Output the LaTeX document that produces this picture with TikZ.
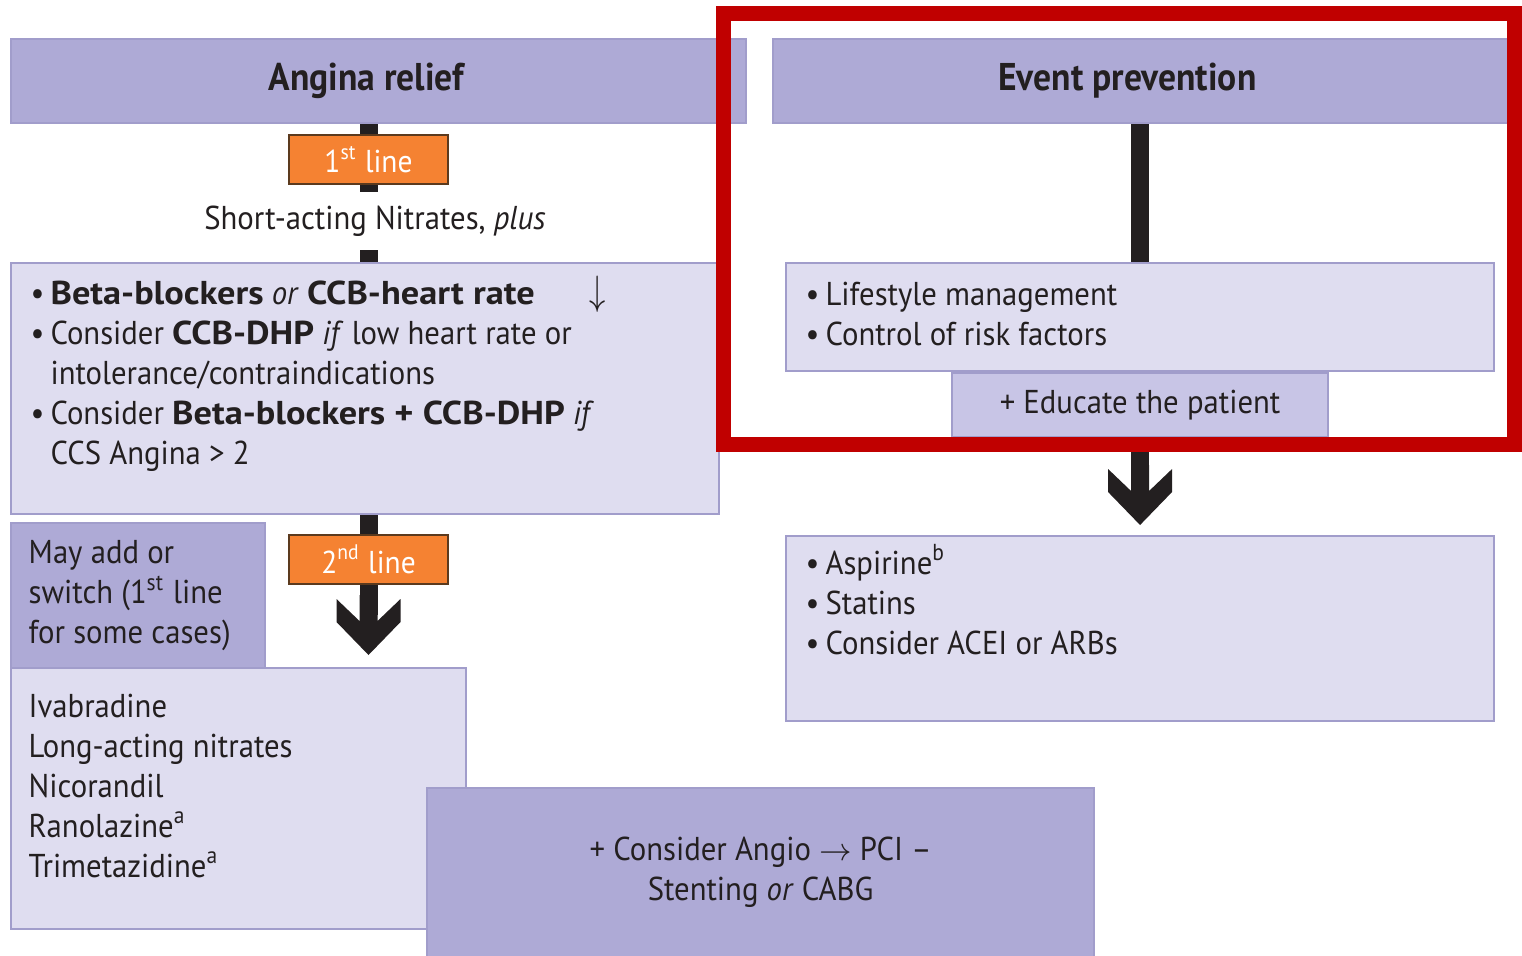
\documentclass[tikz,border=0pt]{standalone}
\usepackage{fontspec}
\setmainfont{PT Sans}[FakeStretch=0.93, BoldFeatures={FakeStretch=1.1}]
\newfontfamily\headfont{PT Sans}[FakeStretch=0.92]
\usepackage{xcolor}
\usetikzlibrary{positioning,calc,backgrounds}

\definecolor{lavdark}{HTML}{AEAAD6}
\definecolor{lavlight}{HTML}{DFDDF0}
\definecolor{lavmid}{HTML}{C8C5E6}
\definecolor{lavedge}{HTML}{A19DCB}
\definecolor{orng}{HTML}{F58232}
\definecolor{orline}{HTML}{5B3A1E}
\definecolor{ink}{HTML}{231F20}
\definecolor{redframe}{HTML}{C00000}

\newcommand{\blt}{\makebox[0.6em][l]{\textbullet}}
\newcommand{\ind}{\hspace*{0.6em}}

\tikzset{
  chev/.pic={\fill[ink] (0,0) -- (-0.32,0.33) -- (-0.32,0.56) -- (-0.09,0.34)
    -- (-0.09,0.6) -- (0.09,0.6) -- (0.09,0.34) -- (0.32,0.56) -- (0.32,0.33) -- cycle;}
}

\begin{document}
\begin{tikzpicture}[
  font=\fontsize{9.4}{11.4}\selectfont, text=ink,
  hdr/.style={draw=lavedge, line width=0.5pt, fill=lavdark, minimum width=7.35cm, minimum height=0.84cm, inner sep=0pt, anchor=north west, font=\fontsize{11}{13}\headfont\bfseries},
  lite/.style={draw=lavedge, line width=0.6pt, fill=lavlight, inner sep=0pt, anchor=north west},
  dark/.style={draw=lavedge, line width=0.6pt, fill=lavdark, inner sep=0pt, anchor=north west},
  orbox/.style={draw=orline, line width=0.8pt, fill=orng, text=white, minimum width=1.59cm, minimum height=0.49cm, inner sep=0pt, font=\fontsize{9}{11}\selectfont},
  txt/.style={align=left, inner sep=0pt},
  shaft/.style={line width=0.18cm, draw=ink}
]
\useasboundingbox (0,0) rectangle (15.22,-9.56);

% column heads
\node[hdr] (relief) at (0.10,-0.38) {Angina relief\hspace*{0.24cm}};
\node[hdr] (prevent) at (7.72,-0.38) {Event prevention\hspace*{0.26cm}};

% angina relief side
\node[orbox] (first) at (3.685,-1.595) {1\textsuperscript{st} line};
\node[fill=white, minimum height=0.58cm, inner xsep=2pt, inner ysep=0pt] (nitr) at (3.75,-2.21) {Short-acting Nitrates, \textit{plus}};
\node[lite, minimum width=7.08cm, minimum height=2.51cm] (bbk) at (0.10,-2.62) {};
\node[txt, below right=0.13cm and 0.20cm of bbk.north west] (bbktxt) {%
  \blt\textbf{Beta-blockers} \textit{or} \textbf{CCB-heart rate}\hspace{0.55cm}\scalebox{1}[1.3]{$\downarrow$}\\
  \blt Consider \textbf{CCB-DHP} \textit{if} low heart rate or\\
  \ind intolerance/contraindications\\
  \blt Consider \textbf{Beta-blockers + CCB-DHP} \textit{if}\\
  \ind CCS Angina > 2};
\node[orbox] (second) at (3.685,-5.595) {2\textsuperscript{nd} line};
\node[dark, minimum width=2.54cm, minimum height=1.45cm] (mayadd) at (0.10,-5.22) {};
\node[txt, below right=0.18cm and 0.18cm of mayadd.north west] (maytxt) {May add or\\ switch (1\textsuperscript{st} line\\ for some cases)};
\node[lite, minimum width=4.55cm, minimum height=2.61cm] (ivab) at (0.10,-6.67) {};
\node[txt, below right=0.26cm and 0.18cm of ivab.north west] (ivabtxt) {Ivabradine\\ Long-acting nitrates\\ Nicorandil\\ Ranolazine\textsuperscript{a}\\ Trimetazidine\textsuperscript{a}};
\node[dark, minimum width=6.67cm, minimum height=1.69cm, align=center] (angio) at (4.26,-7.87) {+ Consider Angio $\rightarrow$ PCI --\\ Stenting \textit{or} CABG};

% event prevention side
\node[lite, minimum width=7.08cm, minimum height=1.08cm] (life) at (7.85,-2.62) {};
\node[txt, below right=0.19cm and 0.20cm of life.north west] (lifetxt) {\blt Lifestyle management\\ \blt Control of risk factors};
\node[lite, fill=lavmid, anchor=north, minimum width=3.76cm, minimum height=0.64cm, below=0pt of life] (educ) {+ Educate the patient};
\node[lite, minimum width=7.08cm, minimum height=1.85cm] (aspir) at (7.85,-5.35) {};
\node[txt, below right=0.09cm and 0.20cm of aspir.north west] (aspirtxt) {\blt Aspirine\textsuperscript{b}\\ \blt Statins\\ \blt Consider ACEI or ARBs};

% connectors behind the boxes
\coordinate (tipL) at ($(second |- ivab.north)+(0,0.12)$);
\coordinate (tipR) at ($(educ |- aspir.north)+(0,0.10)$);
\begin{scope}[on background layer]
  \draw[shaft] (first |- relief.south) -- (first |- bbk.north);
  \draw[shaft] (second |- bbk.south) -- ($(tipL)+(0,0.4)$);
  \pic at (tipL) {chev};
  \draw[shaft] (life |- prevent.south) -- (life.north);
  \draw[shaft] (educ.south) -- ($(tipR)+(0,0.4)$);
  \pic at (tipR) {chev};
\end{scope}

% highlight frame
\draw[redframe, line width=0.15cm] (7.235,-0.135) rectangle (15.145,-4.445);
\end{tikzpicture}
\end{document}
